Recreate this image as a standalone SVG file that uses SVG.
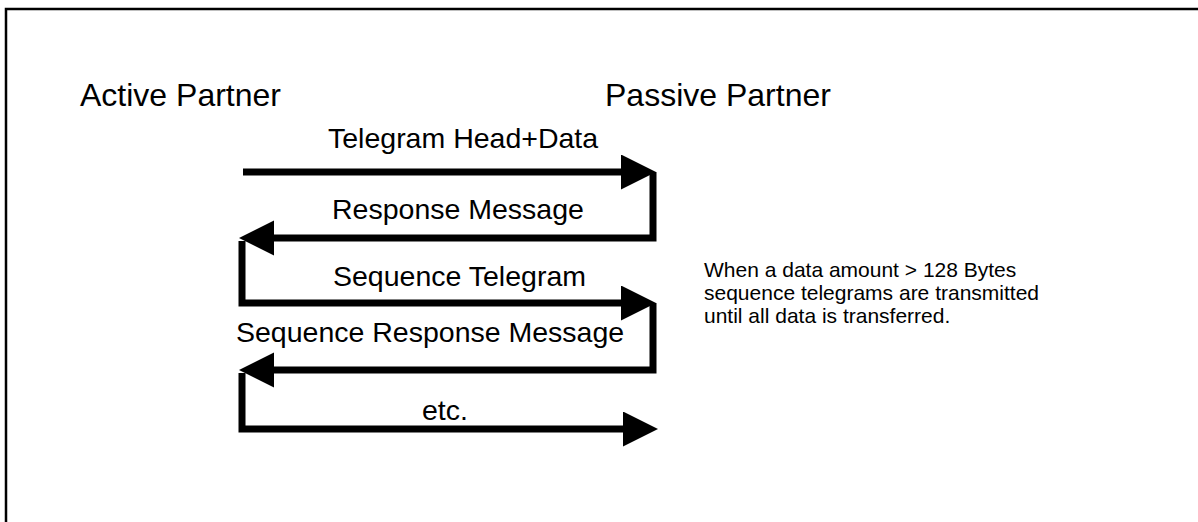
<svg xmlns="http://www.w3.org/2000/svg" width="1198" height="522" viewBox="0 0 1198 522">
  <style>
    .frame { fill: none; stroke: #000; stroke-width: 2.5; }
    .conn { fill: none; stroke: #000; stroke-width: 7; stroke-linejoin: miter; stroke-linecap: butt; }
    .head { font-family: "Liberation Sans", Arial, sans-serif; font-size: 32px; fill: #000; }
    .lbl { font-family: "Liberation Sans", Arial, sans-serif; font-size: 28.5px; fill: #000; }
    .note { font-family: "Liberation Sans", Arial, sans-serif; font-size: 21px; fill: #000; }
  </style>
  <defs>
    <marker id="arrow" markerUnits="userSpaceOnUse" markerWidth="36" markerHeight="36" refX="0" refY="17.5" orient="auto" viewBox="0 0 36 36">
      <path d="M0,0 L35,17.5 L0,35 Z" fill="#000"/>
    </marker>
  </defs>
  <rect width="1198" height="522" fill="#fff"/>
  <path class="frame" d="M6,522 V9 H1198"/>

  <g id="active-partner">
    <text class="head" x="80" y="106">Active Partner</text>
  </g>
  <g id="passive-partner">
    <text class="head" x="605" y="106">Passive Partner</text>
  </g>

  <g id="connectors">
    <path class="conn" d="M243,172 H621" marker-end="url(#arrow)"/>
    <path class="conn" d="M653,172 V238 H274" marker-end="url(#arrow)"/>
    <path class="conn" d="M242,241 V303 H621" marker-end="url(#arrow)"/>
    <path class="conn" d="M653,303 V370 H274" marker-end="url(#arrow)"/>
    <path class="conn" d="M242,373 V429 H623" marker-end="url(#arrow)"/>
  </g>

  <g id="labels">
    <text class="lbl" x="328" y="148">Telegram Head+Data</text>
    <text class="lbl" x="332" y="219">Response Message</text>
    <text class="lbl" x="333" y="286">Sequence Telegram</text>
    <text class="lbl" x="236" y="342">Sequence Response Message</text>
    <text class="lbl" x="422" y="420">etc.</text>
  </g>

  <g id="note">
    <text class="note" x="704" y="277">When a data amount &gt; 128 Bytes</text>
    <text class="note" x="704" y="300">sequence telegrams are transmitted</text>
    <text class="note" x="704" y="323">until all data is transferred.</text>
  </g>
</svg>
